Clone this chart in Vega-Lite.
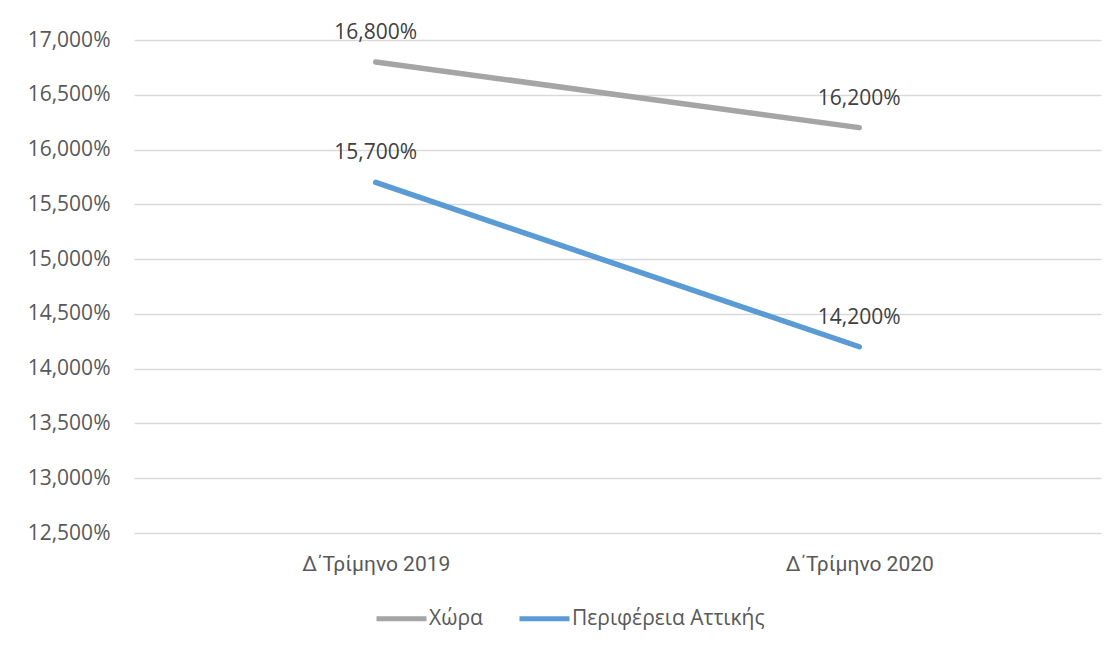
{
  "$schema": "https://vega.github.io/schema/vega-lite/v6.json",
  "width": 967,
  "height": 493,
  "autosize": {"type": "none"},
  "padding": {"left": 134, "top": 40, "right": 13, "bottom": 115},
  "background": "white",
  "config": {
    "locale": {"number": {"decimal": ",", "thousands": ".", "grouping": [3], "currency": ["", " €"]}},
    "view": {"stroke": null},
    "font": "Open Sans",
    "axis": {"labelFont": "Open Sans", "labelFontSize": 21, "labelColor": "#595959", "domain": false, "ticks": false}
  },
  "data": {
    "values": [
      {"quarter": "Δ΄Τρίμηνο 2019", "series": "Χώρα", "value": 0.168},
      {"quarter": "Δ΄Τρίμηνο 2020", "series": "Χώρα", "value": 0.162},
      {"quarter": "Δ΄Τρίμηνο 2019", "series": "Περιφέρεια Αττικής", "value": 0.157},
      {"quarter": "Δ΄Τρίμηνο 2020", "series": "Περιφέρεια Αττικής", "value": 0.142}
    ]
  },
  "encoding": {
    "x": {"field": "quarter", "type": "nominal", "sort": null, "title": null,
      "scale": {"type": "point", "padding": 0.5},
      "axis": {"labelAngle": 0, "grid": false, "labelPadding": 20, "labelFont": "Roboto"}},
    "y": {"field": "value", "type": "quantitative", "title": null,
      "scale": {"domain": [0.125, 0.17], "nice": false, "zero": false},
      "axis": {"values": [0.125, 0.13, 0.135, 0.14, 0.145, 0.15, 0.155, 0.16, 0.165, 0.17], "format": ".3%", "gridColor": "#D9D9D9", "gridWidth": 1.3, "labelPadding": 24}},
    "color": {"field": "series", "type": "nominal", "sort": ["Χώρα", "Περιφέρεια Αττικής"],
      "scale": {"domain": ["Χώρα", "Περιφέρεια Αττικής"], "range": ["#A5A5A5", "#5B9BD5"]},
      "legend": {"orient": "none", "legendX": 240, "legendY": 551, "direction": "horizontal", "title": null, "symbolType": "stroke", "symbolSize": 2500, "symbolStrokeWidth": 5, "labelFontSize": 21, "labelColor": "#595959", "labelFont": "Open Sans", "labelOffset": 0, "labelLimit": 400, "columnPadding": 26}}
  },
  "layer": [
    {"mark": {"type": "line", "strokeWidth": 5.5, "strokeCap": "round"}},
    {"mark": {"type": "text", "dy": -29, "dx": 0, "fontSize": 21, "color": "#404040"},
      "encoding": {"text": {"field": "value", "type": "quantitative", "format": ".3%"}, "color": {"value": "#404040"}}}
  ]
}
